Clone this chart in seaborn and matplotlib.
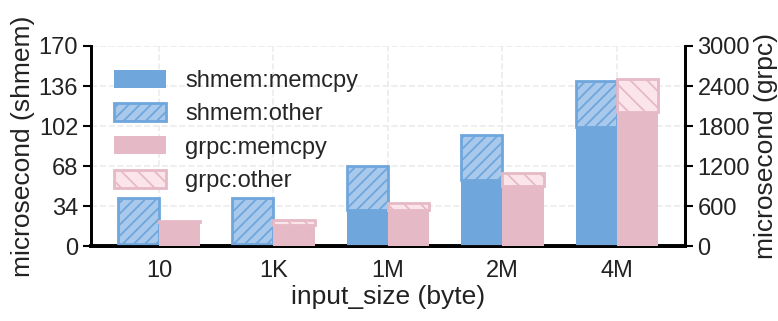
import numpy as np
import matplotlib
matplotlib.use("Agg")
import matplotlib.pyplot as plt
import seaborn as sns

# Per-input-size latency breakdown (microseconds)
sizes = ["10", "1K", "1M", "2M", "4M"]
shmem_memcpy = [2, 2, 31, 56, 101]
shmem_other = [39, 39, 37, 38, 39]
grpc_memcpy = [355, 320, 540, 900, 2015]
grpc_other = [20, 70, 100, 200, 485]

shmem_ticks = [0, 34, 68, 102, 136, 170]
grpc_ticks = [0, 600, 1200, 1800, 2400, 3000]

BLUE = "#6fa6dc"
BLUE_LIGHT = "#a9c9ec"
PINK = "#e5b9c5"
PINK_LIGHT = "#fce5ea"

sns.set_theme(style="whitegrid")
plt.rcParams["font.family"] = ["Liberation Sans", "DejaVu Sans"]
plt.rcParams["hatch.linewidth"] = 1.3
plt.rcParams["grid.linestyle"] = "--"
plt.rcParams["grid.color"] = "#ebebeb"
plt.rcParams["grid.linewidth"] = 1.2

fig, ax = plt.subplots(figsize=(7.78, 3.21), dpi=100)
fig.subplots_adjust(left=0.1166, right=0.8805, top=0.8567, bottom=0.2336)
ax2 = ax.twinx()

x = np.arange(len(sizes))
w = 0.36

b1 = ax.bar(x - w / 2, shmem_memcpy, w, color=BLUE, linewidth=0,
            label="shmem:memcpy", zorder=3)
b2 = ax.bar(x - w / 2, shmem_other, w, bottom=shmem_memcpy, color=BLUE_LIGHT,
            edgecolor=BLUE, linewidth=2, hatch="///", label="shmem:other", zorder=3)
b3 = ax2.bar(x + w / 2, grpc_memcpy, w, color=PINK, linewidth=0,
             label="grpc:memcpy", zorder=3)
b4 = ax2.bar(x + w / 2, grpc_other, w, bottom=grpc_memcpy, color=PINK_LIGHT,
             edgecolor=PINK, linewidth=2, hatch="\\\\", label="grpc:other", zorder=3)

ax.set_ylim(0, 170)
ax.set_yticks(shmem_ticks)
ax2.set_ylim(0, 3000)
ax2.set_yticks(grpc_ticks)
ax.set_xticks(x)
ax.set_xticklabels(sizes)

ax.grid(True, axis="both")
ax2.grid(False)
ax.set_axisbelow(True)

TXT = "#222222"
for a in (ax, ax2):
    a.spines["top"].set_visible(False)
    for s in ("left", "right", "bottom"):
        a.spines[s].set_color("black")
        a.spines[s].set_linewidth(2)
    a.tick_params(axis="y", which="major", length=6, width=1.5, color="black",
                  labelsize=17, pad=3, labelcolor=TXT)
    a.tick_params(axis="x", length=0, labelsize=17, pad=10, labelcolor=TXT)
ax.spines["bottom"].set_linewidth(2.8)
ax.tick_params(axis="y", left=True, right=False)
ax2.tick_params(axis="y", right=True, left=False)

ax.set_xlabel("input_size (byte)", fontsize=19, color=TXT, labelpad=2)
ax.set_ylabel("microsecond (shmem)", fontsize=19, color=TXT, labelpad=3)
ax2.set_ylabel("microsecond (grpc)", fontsize=19, color=TXT, labelpad=3)

ax2.legend(handles=[b1, b2, b3, b4], loc="upper left", frameon=False,
           fontsize=17, handlelength=2.2, handleheight=0.8, labelspacing=0.47,
           handletextpad=0.8, borderaxespad=0.7, borderpad=0.3)

fig.savefig("out.png", dpi=100)
